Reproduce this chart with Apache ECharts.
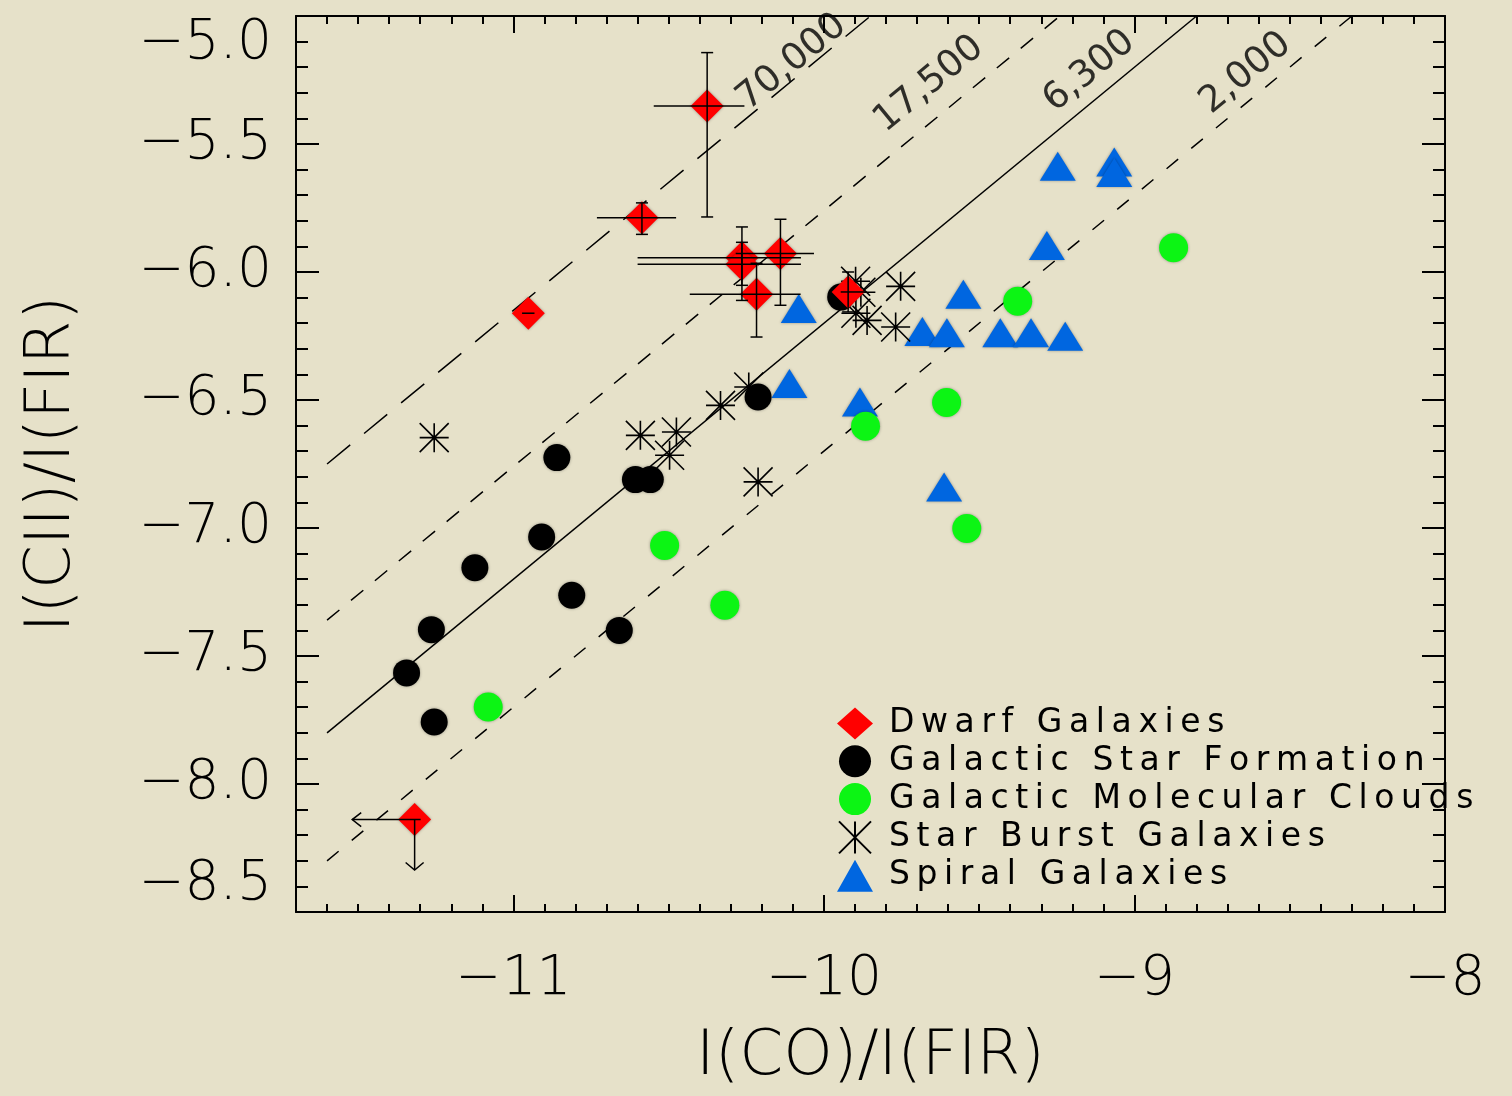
<!DOCTYPE html>
<html>
<head>
<meta charset="utf-8">
<script src="https://cdn.jsdelivr.net/npm/echarts@6/dist/echarts.min.js"></script>
<style>
  html, body { margin: 0; padding: 0; background: #e6e1c9; }
  #chart { width: 1512px; height: 1096px; }
</style>
</head>
<body>
<div id="chart"></div>
<script>
// Dwarf Galaxies (last one is an upper limit)
const dwarfX = [-10.376, -10.586, -10.952, -10.264, -10.264, -10.140, -10.217, -9.922, -11.318]
const dwarfY = [-5.352, -5.788, -6.161, -5.944, -5.970, -5.928, -6.087, -6.078, -8.139]
// error bars for the first 8 dwarfs
const dwarfXLo = [-10.548, -10.731, -10.972, -10.600, -10.600, -10.284, -10.432, -9.946]
const dwarfXHi = [-10.256, -10.476, -10.932, -10.074, -10.074, -10.032, -10.075, -9.865]
const dwarfYLo = [-5.785, -5.853, -6.161, -6.111, -6.052, -6.130, -6.254, -6.156]
const dwarfYHi = [-5.143, -5.730, -6.161, -5.824, -5.884, -5.794, -5.966, -6.000]
// upper limit arrows
const limitX = [-11.318]
const limitY = [-8.139]
const limitXTo = [-11.519]
const limitYTo = [-8.336]

// Galactic Star Formation
const sfX = [-9.946, -10.212, -10.860, -10.607, -10.559, -10.909, -11.124, -10.812, -10.659, -11.264, -11.344, -11.255]
const sfY = [-6.098, -6.488, -6.725, -6.811, -6.811, -7.035, -7.155, -7.263, -7.400, -7.397, -7.566, -7.758]

// Galactic Molecular Clouds
const mcX = [-8.874, -9.376, -9.605, -9.866, -9.540, -10.513, -10.319, -11.081]
const mcY = [-5.905, -6.114, -6.510, -6.603, -7.002, -7.068, -7.302, -7.699]

// Star Burst Galaxies
const sbX = [-11.255, -10.591, -10.475, -10.497, -10.333, -10.242, -10.212, -9.898, -9.881, -9.897, -9.861, -9.753, -9.769]
const sbY = [-6.647, -6.638, -6.625, -6.716, -6.521, -6.449, -6.820, -6.036, -6.079, -6.161, -6.189, -6.056, -6.215]

// Spiral Galaxies
const spX = [-9.247, -9.065, -9.065, -9.282, -9.551, -10.081, -9.683, -9.604, -9.432, -9.333, -9.223, -10.111, -9.884, -9.613]
const spY = [-5.587, -5.570, -5.611, -5.896, -6.087, -6.143, -6.232, -6.237, -6.237, -6.237, -6.251, -6.436, -6.508, -6.840]

// constant I(CII)/I(CO) lines: log ratio, label and where the label sits
const ratioLabels = ['70,000', '17,500', '6,300', '2,000']
const ratioLog = [4.85, 4.24, 3.80, 3.30]
const ratioLabelX = [-10.103, -9.661, -9.145, -8.642]
const ratioLabelY = [-5.181, -5.267, -5.216, -5.224]
const ratioStartX = -11.6
const ratioEndY = -5.0

const xTicks = [-11, -10, -9, -8]
const names = ['Dwarf Galaxies', 'Galactic Star Formation', 'Galactic Molecular Clouds', 'Star Burst Galaxies', 'Spiral Galaxies']

const FONT = 'DejaVu Sans'
const zip = (a, b) => a.map((v, i) => [v, b[i]])
const minus = v => (v < 0 ? '\u2212' : '') + Math.abs(v)
// the original lettering is widely spaced, fake it with thin spaces
const spaced = s => s.split('').join('\u2009')

const chart = echarts.init(document.getElementById('chart'))

const axisCommon = {
  type: 'value',
  min: -11.7,
  max: -8,
  splitLine: { show: false }
}

function xMinor (pos) {
  return Object.assign({}, axisCommon, {
    position: pos,
    interval: 0.1,
    axisLine: { show: true, onZero: false, lineStyle: { color: '#000', width: 2 } },
    axisTick: { show: true, inside: true, length: 8, lineStyle: { color: '#000', width: 2 } },
    axisLabel: { show: false }
  })
}
function xMajor (pos, labels) {
  return Object.assign({}, axisCommon, {
    position: pos,
    axisLine: { show: false },
    axisTick: { show: true, inside: true, length: 17, customValues: xTicks, lineStyle: { color: '#000', width: 2 } },
    axisLabel: {
      show: labels,
      customValues: xTicks,
      formatter: minus,
      fontFamily: FONT,
      fontWeight: 200,
      fontSize: 55,
      color: '#000',
      margin: 40
    },
    name: labels ? 'I(CO)/I(FIR)' : '',
    nameLocation: 'middle',
    nameGap: 114,
    nameTextStyle: { fontFamily: FONT, fontWeight: 200, fontSize: 63, color: '#000' }
  })
}
function yAxis (pos, labels) {
  return {
    type: 'value',
    position: pos,
    min: -8.5,
    max: -5,
    interval: 0.5,
    splitLine: { show: false },
    axisLine: { show: true, onZero: false, lineStyle: { color: '#000', width: 2 } },
    axisTick: { show: true, inside: true, length: 23, lineStyle: { color: '#000', width: 2 } },
    minorTick: { show: true, splitNumber: 5, length: 12, lineStyle: { color: '#000', width: 2 } },
    axisLabel: {
      show: labels,
      formatter: v => '\u2212' + Math.abs(v).toFixed(1),
      fontFamily: FONT,
      fontWeight: 200,
      fontSize: 55,
      color: '#000',
      margin: 24,
      verticalAlignMinLabel: 'bottom',
      verticalAlignMaxLabel: 'top'
    },
    name: labels ? 'I(CII)/I(FIR)' : '',
    nameLocation: 'middle',
    nameGap: 212,
    nameTextStyle: { fontFamily: FONT, fontWeight: 200, fontSize: 63, color: '#000' }
  }
}

const starPath = 'path://M0,-10L0,10M-10,0L10,0M-10,-10L10,10M-10,10L10,-10'
const starIcon = 'path://M0,-10L0,10M-10,-10L10,10M-10,10L10,-10'

const series = []

// ratio lines
const dashes = [[30, 18], [16, 15], 'solid', [15, 17]]
ratioLog.forEach((c, i) => {
  series.push({
    type: 'line',
    silent: true,
    showSymbol: false,
    z: 1,
    data: [[ratioStartX, ratioStartX + c], [ratioEndY - c, ratioEndY]],
    lineStyle: { color: '#000', width: 1.5, type: dashes[i] }
  })
})
series.push({
  type: 'scatter',
  silent: true,
  symbolSize: 0,
  z: 2,
  data: ratioLabels.map((t, i) => [ratioLabelX[i], ratioLabelY[i], t]),
  label: {
    show: true,
    position: 'inside',
    formatter: p => p.data[2],
    rotate: 39.5,
    fontFamily: FONT,
    fontSize: 37,
    color: '#000'
  }
})

const shadow = { shadowBlur: 3, shadowColor: 'rgba(0,0,0,0.35)' }

series.push({
  name: 'Spiral Galaxies',
  type: 'scatter',
  symbol: 'triangle',
  symbolSize: [36, 29],
  z: 3,
  itemStyle: Object.assign({ color: '#0066e0', opacity: 1 }, shadow),
  data: zip(spX, spY)
})
series.push({
  name: 'Galactic Molecular Clouds',
  type: 'scatter',
  symbol: 'circle',
  symbolSize: 29,
  z: 3,
  itemStyle: Object.assign({ color: '#0cf514', opacity: 1 }, shadow),
  data: zip(mcX, mcY)
})
series.push({
  name: 'Galactic Star Formation',
  type: 'scatter',
  symbol: 'circle',
  symbolSize: 27,
  z: 3,
  itemStyle: Object.assign({ color: '#000', opacity: 1 }, shadow),
  data: zip(sfX, sfY)
})
series.push({
  name: 'Star Burst Galaxies',
  type: 'scatter',
  symbol: starPath,
  symbolSize: 29,
  z: 3,
  itemStyle: { color: 'rgba(0,0,0,0)', borderColor: '#000', borderWidth: 1.6, opacity: 1 },
  data: zip(sbX, sbY)
})
series.push({
  name: 'Dwarf Galaxies',
  type: 'scatter',
  symbol: 'diamond',
  symbolSize: 33,
  z: 4,
  itemStyle: Object.assign({ color: '#ff0000', opacity: 1 }, shadow),
  data: zip(dwarfX, dwarfY)
})

// error bars
series.push({
  type: 'custom',
  silent: true,
  z: 5,
  encode: { x: 0, y: 1 },
  data: dwarfXLo.map((v, i) => [dwarfX[i], dwarfY[i], v, dwarfXHi[i], dwarfYLo[i], dwarfYHi[i]]),
  renderItem (params, api) {
    const y = api.value(1)
    const x = api.value(0)
    const st = { stroke: '#000', lineWidth: 1.5 }
    const l = api.coord([api.value(2), y])
    const r = api.coord([api.value(3), y])
    const kids = [{ type: 'line', shape: { x1: l[0], y1: l[1], x2: r[0], y2: r[1] }, style: st }]
    const ylo = api.value(4)
    const yhi = api.value(5)
    if (ylo !== yhi) {
      const b = api.coord([x, ylo])
      const t = api.coord([x, yhi])
      kids.push({ type: 'line', shape: { x1: b[0], y1: b[1], x2: t[0], y2: t[1] }, style: st })
      kids.push({ type: 'line', shape: { x1: b[0] - 6, y1: b[1], x2: b[0] + 6, y2: b[1] }, style: st })
      kids.push({ type: 'line', shape: { x1: t[0] - 6, y1: t[1], x2: t[0] + 6, y2: t[1] }, style: st })
    }
    return { type: 'group', children: kids }
  }
})

// upper limit arrows
series.push({
  type: 'custom',
  silent: true,
  z: 5,
  encode: { x: 0, y: 1 },
  data: limitX.map((v, i) => [v, limitY[i], limitXTo[i], limitYTo[i]]),
  renderItem (params, api) {
    const c = api.coord([api.value(0), api.value(1)])
    const le = api.coord([api.value(2), api.value(1)])
    const dn = api.coord([api.value(0), api.value(3)])
    const st = { stroke: '#000', lineWidth: 1.5, fill: null }
    return {
      type: 'group',
      children: [
        { type: 'line', shape: { x1: c[0] + 6, y1: c[1], x2: le[0], y2: le[1] }, style: st },
        { type: 'polyline', shape: { points: [[le[0] + 9, le[1] - 7], [le[0], le[1]], [le[0] + 9, le[1] + 7]] }, style: st },
        { type: 'line', shape: { x1: c[0], y1: c[1], x2: dn[0], y2: dn[1] }, style: st },
        { type: 'polyline', shape: { points: [[dn[0] - 9, dn[1] - 7.5], [dn[0], dn[1]], [dn[0] + 9, dn[1] - 7.5]] }, style: st }
      ]
    }
  }
})

const option = {
  backgroundColor: '#e6e1c9',
  animation: false,
  grid: { left: 296, right: 67, top: 16, bottom: 184 },
  legend: {
    orient: 'vertical',
    left: 837,
    top: 707,
    padding: 0,
    itemWidth: 36,
    itemHeight: 32,
    itemGap: 4.8,
    selectedMode: false,
    formatter: n => spaced(n),
    textStyle: { fontFamily: FONT, fontSize: 33, lineHeight: 30, color: '#000', padding: [0, 0, 0, 11] },
    data: [
      { name: names[0] },
      { name: names[1] },
      { name: names[2] },
      { name: names[3], icon: starIcon },
      { name: names[4] }
    ]
  },
  xAxis: [xMinor('bottom'), xMajor('bottom', true), xMinor('top'), xMajor('top', false)],
  yAxis: [yAxis('left', true), yAxis('right', false)],
  series: series
}
chart.setOption(option)
</script>
</body>
</html>
